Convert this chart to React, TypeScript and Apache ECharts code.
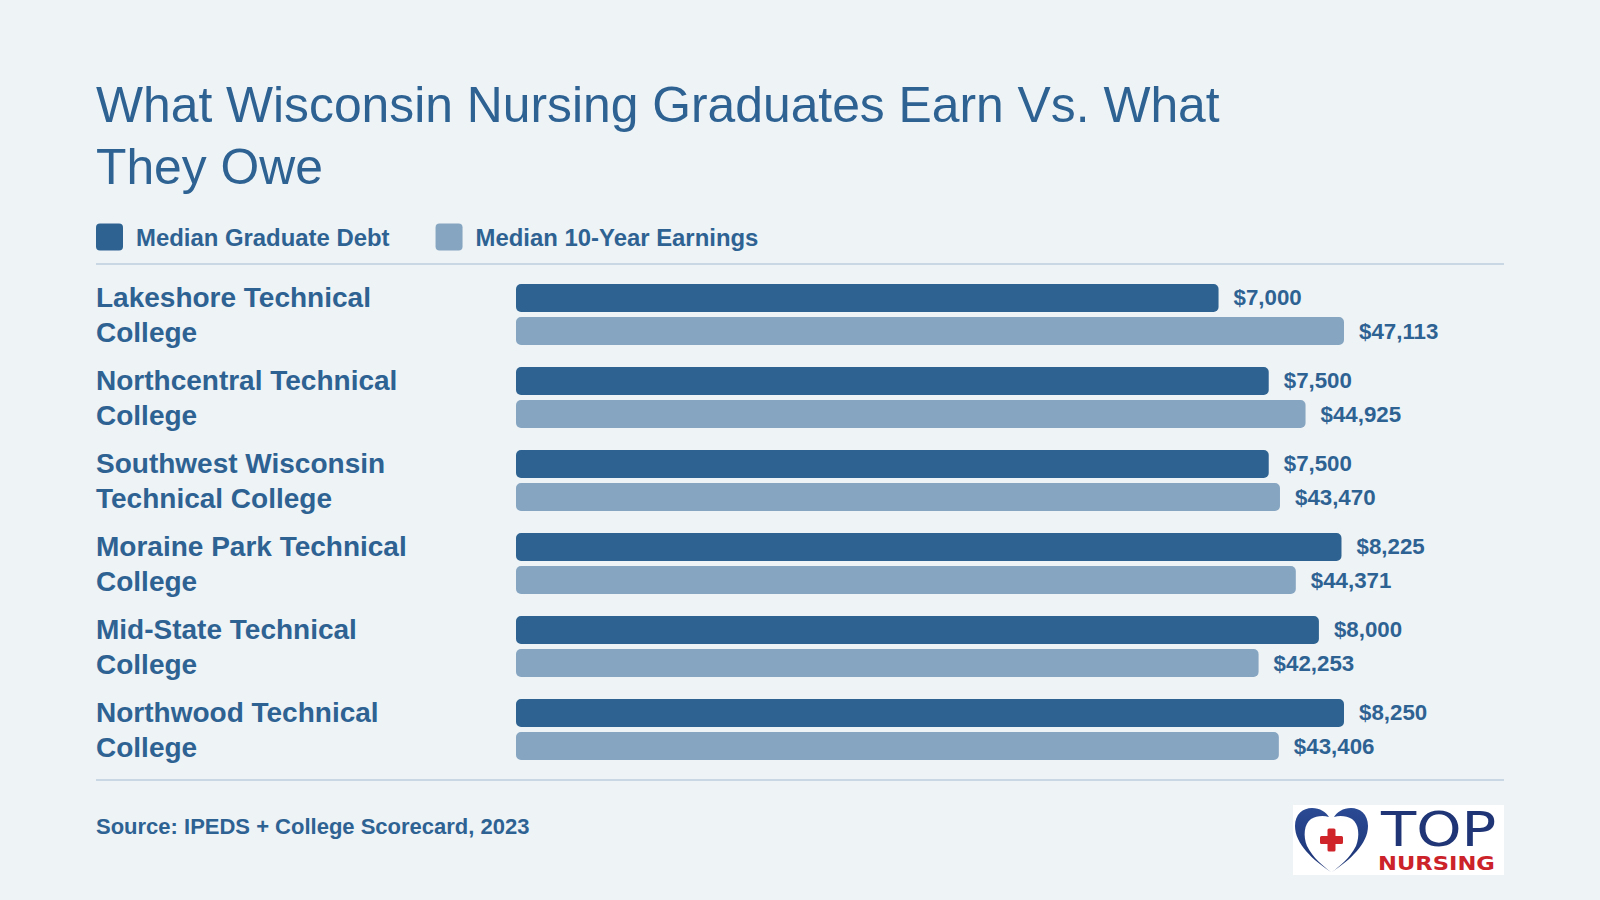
import React, { useEffect, useRef } from "react";
import * as echarts from "echarts";

const colleges = [
  "Lakeshore Technical\nCollege",
  "Northcentral Technical\nCollege",
  "Southwest Wisconsin\nTechnical College",
  "Moraine Park Technical\nCollege",
  "Mid-State Technical\nCollege",
  "Northwood Technical\nCollege",
];
const medianDebt = [7000, 7500, 7500, 8225, 8000, 8250];
const medianEarnings = [47113, 44925, 43470, 44371, 42253, 43406];
const seriesNames = ["Median Graduate Debt", "Median 10-Year Earnings"];

const TEXT = "#2D6293";
const DARK = "#2E6391";
const LIGHT = "#86A5C1";
const BG = "#EEF3F6";
const RULE = "#C9D7E4";
const FONT = "'Liberation Sans', Arial, Helvetica, sans-serif";

const HEART_D =
  "M36 64 C18 52 0 36 0 18 C0 6 8 0 17 0 C25 0 31 4 34 9 C28 7 21 8 16 11 C9 16 8 28 12 38 C18 50 28 58 36 64 Z " +
  "M37 64 C55 52 73 36 73 18 C73 6 65 0 56 0 C48 0 42 4 39 9 C45 7 52 8 57 11 C64 16 65 28 61 38 C55 50 45 58 37 64 Z";

const LEGEND_ICON =
  "path://M4,0 H23 A4,4 0 0 1 27,4 V23 A4,4 0 0 1 23,27 H4 A4,4 0 0 1 0,23 V4 A4,4 0 0 1 4,0 Z";

let registered = false;
function ensureShape() {
  if (registered) return;
  echarts.graphic.registerShape("logo", echarts.graphic.extendPath(HEART_D, {}));
  registered = true;
}

const fmt = (v: number) => "$" + v.toLocaleString("en-US");

export default function App() {
  const ref = useRef<HTMLDivElement>(null);
  useEffect(() => {
    if (!ref.current) return;
    ensureShape();
    const chart = echarts.init(ref.current, undefined, { renderer: "svg" });
    const barLabel = {
      show: true,
      position: "right",
      distance: 15,
      formatter: (p: any) => fmt(p.value),
      fontFamily: FONT,
      fontSize: 22.3,
      fontWeight: "bold",
      color: TEXT,
    };
    chart.setOption({
      animation: false,
      backgroundColor: BG,
      textStyle: { fontFamily: FONT },
      title: {
        text: "What Wisconsin Nursing Graduates Earn Vs. What\nThey Owe",
        left: 96,
        top: 74,
        padding: 0,
        textStyle: {
          fontFamily: FONT,
          fontSize: 49.8,
          fontWeight: "normal",
          color: TEXT,
          lineHeight: 62,
        },
      },
      legend: {
        data: seriesNames,
        left: 96,
        top: 223.5,
        padding: 0,
        itemWidth: 27,
        itemHeight: 27,
        itemGap: 46,
        icon: LEGEND_ICON,
        textStyle: {
          fontFamily: FONT,
          fontSize: 23.9,
          fontWeight: "bold",
          color: TEXT,
          padding: [0, 0, 0, 8],
        },
      },
      grid: { left: 516, right: 256, top: 273, bottom: 129, containLabel: false },
      xAxis: [
        { type: "value", min: 0, max: 8250, show: false },
        { type: "value", min: 0, max: 47113, show: false },
      ],
      yAxis: {
        type: "category",
        data: colleges,
        inverse: true,
        axisLine: { show: false },
        axisTick: { show: false },
        splitLine: { show: false },
        axisLabel: {
          margin: 420,
          align: "left",
          fontFamily: FONT,
          fontSize: 28,
          fontWeight: "bold",
          color: TEXT,
          lineHeight: 35,
        },
      },
      series: [
        {
          name: seriesNames[0],
          type: "bar",
          xAxisIndex: 0,
          data: medianDebt,
          barWidth: 28,
          barGap: "18%",
          itemStyle: { color: DARK, borderRadius: 5 },
          label: barLabel,
        },
        {
          name: seriesNames[1],
          type: "bar",
          xAxisIndex: 1,
          data: medianEarnings,
          barWidth: 28,
          barGap: "18%",
          itemStyle: { color: LIGHT, borderRadius: 5 },
          label: barLabel,
        },
      ],
      graphic: [
        {
          type: "line",
          shape: { x1: 96, y1: 264, x2: 1504, y2: 264 },
          style: { stroke: RULE, lineWidth: 2 },
        },
        {
          type: "line",
          shape: { x1: 96, y1: 780, x2: 1504, y2: 780 },
          style: { stroke: RULE, lineWidth: 2 },
        },
        {
          type: "text",
          left: 96,
          top: 815,
          style: {
            text: "Source: IPEDS + College Scorecard, 2023",
            font: `bold 22px ${FONT}`,
            fill: TEXT,
          },
        },
        {
          type: "group",
          x: 1293,
          y: 805,
          children: [
            {
              type: "rect",
              shape: { x: 0, y: 0, width: 211, height: 70 },
              style: { fill: "#FFFFFF" },
            },
            {
              type: "logo",
              x: 2,
              y: 3,
              scaleX: 1,
              scaleY: 1,
              style: {
                fill: new echarts.graphic.LinearGradient(0, 0, 0, 1, [
                  { offset: 0, color: "#2A4A94" },
                  { offset: 1, color: "#1B3272" },
                ]),
              },
            },
            {
              type: "rect",
              shape: { x: 34.5, y: 23.5, width: 8, height: 23, r: 1.5 },
              style: { fill: "#D0242B" },
            },
            {
              type: "rect",
              shape: { x: 27, y: 31, width: 23, height: 8, r: 1.5 },
              style: { fill: "#D0242B" },
            },
            {
              type: "text",
              x: 88,
              y: 48.7,
              scaleX: 1.2,
              style: {
                text: "TOP",
                font: `48px 'DejaVu Sans', sans-serif`,
                fill: "#1F3575",
                verticalAlign: "bottom",
              },
            },
            {
              type: "text",
              x: 85,
              y: 68,
              scaleX: 1.16,
              style: {
                text: "NURSING",
                font: `bold 19.5px 'DejaVu Sans', sans-serif`,
                fill: "#CC2229",
                verticalAlign: "bottom",
              },
            },
          ],
        },
      ],
    });
    return () => chart.dispose();
  }, []);
  return (
    <div
      ref={ref}
      style={{ position: "absolute", left: 0, top: 0, width: 1600, height: 900 }}
    />
  );
}
